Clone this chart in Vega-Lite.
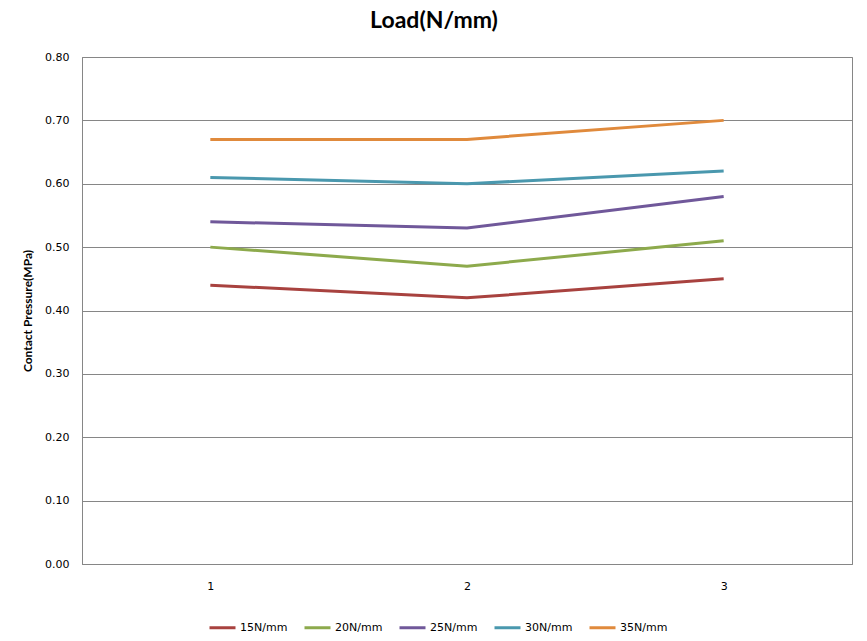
{
  "$schema": "https://vega.github.io/schema/vega-lite/v6.json",
  "autosize": {"type": "none"},
  "padding": {"left": 82, "top": 57, "right": 15, "bottom": 77},
  "width": 770,
  "height": 507,
  "background": "white",
  "title": {
    "text": "Load(N/mm)",
    "font": "Lato",
    "fontSize": 23,
    "fontWeight": "bold",
    "color": "#000000",
    "anchor": "middle",
    "dx": -33,
    "offset": 18
  },
  "config": {
    "view": {"stroke": "#868686", "strokeWidth": 1},
    "axis": {"gridColor": "#868686", "gridOpacity": 1, "domainColor": "#868686"}
  },
  "data": {
    "values": [
      {"x": "1", "series": "15N/mm", "value": 0.44},
      {"x": "2", "series": "15N/mm", "value": 0.42},
      {"x": "3", "series": "15N/mm", "value": 0.45},
      {"x": "1", "series": "20N/mm", "value": 0.50},
      {"x": "2", "series": "20N/mm", "value": 0.47},
      {"x": "3", "series": "20N/mm", "value": 0.51},
      {"x": "1", "series": "25N/mm", "value": 0.54},
      {"x": "2", "series": "25N/mm", "value": 0.53},
      {"x": "3", "series": "25N/mm", "value": 0.58},
      {"x": "1", "series": "30N/mm", "value": 0.61},
      {"x": "2", "series": "30N/mm", "value": 0.60},
      {"x": "3", "series": "30N/mm", "value": 0.62},
      {"x": "1", "series": "35N/mm", "value": 0.67},
      {"x": "2", "series": "35N/mm", "value": 0.67},
      {"x": "3", "series": "35N/mm", "value": 0.70}
    ]
  },
  "mark": {"type": "line", "strokeWidth": 3},
  "encoding": {
    "x": {
      "field": "x",
      "type": "ordinal",
      "scale": {"type": "point", "padding": 0.5},
      "axis": {
        "title": null,
        "labelAngle": 0,
        "labelFont": "DejaVu Sans",
        "labelFontSize": 11,
        "labelColor": "#000000",
        "labelPadding": 16,
        "ticks": false,
        "domain": true,
        "grid": false
      }
    },
    "y": {
      "field": "value",
      "type": "quantitative",
      "scale": {"domain": [0, 0.8], "nice": false},
      "axis": {
        "title": "Contact Pressure(MPa)",
        "titleFont": "Lato",
        "titleFontSize": 12,
        "titleFontWeight": "bold",
        "titleColor": "#000000",
        "titlePadding": 10,
        "format": ".2f",
        "values": [0, 0.1, 0.2, 0.3, 0.4, 0.5, 0.6, 0.7, 0.8],
        "labelFont": "DejaVu Sans",
        "labelFontSize": 11,
        "labelColor": "#000000",
        "labelPadding": 13,
        "ticks": false,
        "grid": true
      }
    },
    "color": {
      "field": "series",
      "type": "nominal",
      "scale": {
        "domain": ["15N/mm", "20N/mm", "25N/mm", "30N/mm", "35N/mm"],
        "range": ["#A8423F", "#8DAA4C", "#70589A", "#4A98AE", "#E08A3C"]
      },
      "legend": {
        "title": null,
        "orient": "none",
        "direction": "horizontal",
        "legendX": 126,
        "legendY": 556,
        "symbolType": "stroke",
        "symbolSize": 676,
        "symbolStrokeWidth": 3,
        "labelFont": "DejaVu Sans",
        "labelFontSize": 11,
        "labelColor": "#000000",
        "labelOffset": 3,
        "columnPadding": 10
      }
    }
  }
}
